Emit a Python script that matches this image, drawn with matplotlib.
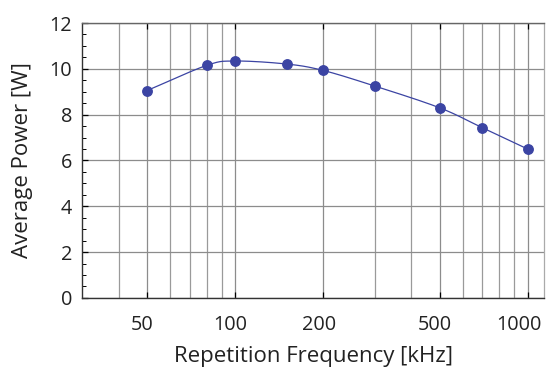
import numpy as np
import matplotlib
matplotlib.use("Agg")
import matplotlib.pyplot as plt
from matplotlib.ticker import FixedLocator, NullFormatter, MultipleLocator
from matplotlib.transforms import ScaledTranslation

freq_khz = [50, 80, 100, 150, 200, 300, 500, 700, 1000]
power_w = [9.05, 10.15, 10.34, 10.21, 9.93, 9.25, 8.30, 7.43, 6.50]
xticks = [50, 100, 200, 500, 1000]
xtick_labels = ["50", "100", "200", "500", "1000"]
yticks = [0, 2, 4, 6, 8, 10, 12]

plt.rcParams['font.family'] = ['Open Sans', 'DejaVu Sans']

fig = plt.figure(figsize=(5.47, 3.71), dpi=100)
ax = fig.add_axes([0.150, 0.197, 0.845, 0.741])
ax.set_xscale('log')
ax.set_xlim(30, 1140)
ax.set_ylim(0, 12)

# smooth curve (Catmull-Rom in log-x space) through the data
lx = np.log10(np.array(freq_khz, dtype=float))
py = np.array(power_w, dtype=float)
px = np.concatenate([[2*lx[0]-lx[1]], lx, [2*lx[-1]-lx[-2]]])
pyy = np.concatenate([[2*py[0]-py[1]], py, [2*py[-1]-py[-2]]])
cx, cy = [], []
t = np.linspace(0, 1, 30)
for i in range(1, len(px)-2):
    p0, p1, p2, p3 = px[i-1], px[i], px[i+1], px[i+2]
    q0, q1, q2, q3 = pyy[i-1], pyy[i], pyy[i+1], pyy[i+2]
    for arr, a0, a1, a2, a3 in ((cx, p0, p1, p2, p3), (cy, q0, q1, q2, q3)):
        arr.extend(0.5*((2*a1) + (-a0+a2)*t + (2*a0-5*a1+4*a2-a3)*t**2 + (-a0+3*a1-3*a2+a3)*t**3))
ax.plot(10**np.array(cx), cy, color='#3b44a3', lw=0.9, zorder=3)
ax.plot(freq_khz, power_w, 'o', color='#3b44a3', ms=6.8, zorder=4)

ax.xaxis.set_major_locator(FixedLocator(xticks))
ax.set_xticklabels(xtick_labels)
ax.xaxis.set_minor_locator(FixedLocator([40, 60, 70, 80, 90, 300, 400, 600, 700, 800, 900]))
ax.xaxis.set_minor_formatter(NullFormatter())
ax.yaxis.set_major_locator(FixedLocator(yticks))
ax.yaxis.set_minor_locator(MultipleLocator(0.5))

ax.grid(True, which='major', color='#8c8c8c', lw=0.9)
ax.grid(True, which='minor', axis='x', color='#9a9a9a', lw=0.9)
ax.set_axisbelow(True)

ax.tick_params(which='both', direction='in', top=True, right=False, color='black')
ax.tick_params(which='major', length=4, width=0.9, labelsize=14.3, labelcolor='#222222')
ax.tick_params(axis='x', which='major', pad=12.5)
ax.tick_params(axis='y', which='major', pad=7)
ax.tick_params(which='minor', length=3, width=0.7)
ax.tick_params(axis='x', which='minor', length=0)
for s in ['left', 'bottom']:
    ax.spines[s].set_color('#333333')
    ax.spines[s].set_linewidth(1.0)
ax.spines['top'].set_color('#666666')
ax.spines['top'].set_linewidth(1.0)
ax.spines['right'].set_color('#aaaaaa')
ax.spines['right'].set_linewidth(0.9)

# shift x tick labels slightly left as in the reference
for lbl in ax.get_xticklabels():
    dx = -9 if lbl.get_text() == "1000" else -4.5
    lbl.set_transform(lbl.get_transform() + ScaledTranslation(dx/100, 0, fig.dpi_scale_trans))

ax.set_xlabel('Repetition Frequency [kHz]', fontsize=16, color='#222222', labelpad=8)
ax.set_ylabel('Average Power [W]', fontsize=16, color='#222222', labelpad=12)

fig.savefig('out.png', dpi=100)
